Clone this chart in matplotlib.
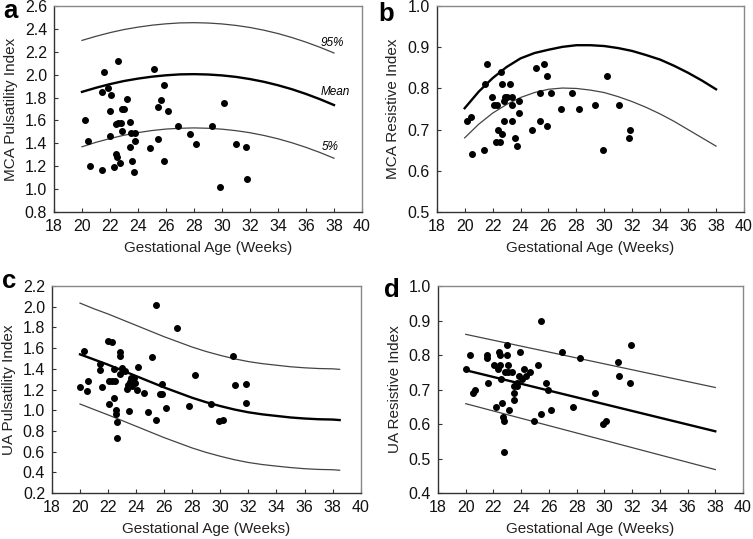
import matplotlib
matplotlib.use("Agg")
from matplotlib import pyplot as plt

plt.rcParams['font.family'] = ['Liberation Sans', 'DejaVu Sans']

# panel a - MCA pulsatility index
a_x = [20.25, 20.43, 20.55, 21.4, 21.58, 21.4, 21.87, 22.0, 22.0, 22.1, 22.27, 22.4, 22.4,
       22.5, 22.56, 22.6, 22.68, 22.8, 22.87, 22.87, 23.0, 23.25, 23.42, 23.44, 23.47, 23.56,
       23.73, 23.82, 23.82, 24.83, 25.11, 25.4, 25.42, 25.66, 25.83, 25.88, 26.16, 26.85,
       27.74, 28.14, 29.31, 29.86, 30.17, 30.98, 31.75, 31.8]
a_y = [1.60, 1.42, 1.20, 1.85, 2.02, 1.17, 1.88, 1.68, 1.46, 1.82, 1.19, 1.57, 1.31,
       1.28, 2.12, 1.58, 1.23, 1.58, 1.51, 1.70, 1.70, 1.79, 1.59, 1.37, 1.49, 1.25,
       1.15, 1.49, 1.42, 1.36, 2.05, 1.72, 1.44, 1.78, 1.91, 1.25, 1.68, 1.55,
       1.48, 1.39, 1.55, 1.02, 1.75, 1.39, 1.37, 1.09]
a_cx = list(range(20, 39))
a_p95 = [2.300, 2.336, 2.368, 2.395, 2.416, 2.433, 2.445, 2.453, 2.455, 2.452,
         2.444, 2.431, 2.413, 2.389, 2.360, 2.325, 2.285, 2.240, 2.190]
a_mean = [1.850, 1.886, 1.918, 1.945, 1.966, 1.983, 1.995, 2.003, 2.005, 2.002,
          1.994, 1.981, 1.962, 1.938, 1.908, 1.873, 1.832, 1.786, 1.735]
a_p5 = [1.370, 1.409, 1.442, 1.471, 1.494, 1.512, 1.525, 1.532, 1.535, 1.532,
        1.524, 1.511, 1.493, 1.469, 1.440, 1.405, 1.365, 1.320, 1.270]

# panel b - MCA resistive index
b_x = [20.2, 20.43, 20.55, 21.39, 21.44, 21.58, 21.99, 22.1, 22.27, 22.34, 22.4, 22.5,
       22.58, 22.68, 22.7, 22.84, 22.84, 22.92, 23.01, 23.27, 23.42, 23.42, 23.42, 23.58,
       23.75, 23.87, 23.87, 24.85, 25.11, 25.4, 25.4, 25.71, 25.88, 25.9, 26.19, 26.88,
       27.71, 28.17, 29.31, 29.88, 30.17, 31.08, 31.75, 31.84]
b_y = [0.72, 0.73, 0.64, 0.65, 0.81, 0.86, 0.78, 0.76, 0.67, 0.76, 0.70, 0.67,
       0.84, 0.81, 0.69, 0.72, 0.77, 0.78, 0.78, 0.81, 0.78, 0.76, 0.72, 0.68,
       0.66, 0.74, 0.77, 0.70, 0.85, 0.79, 0.72, 0.86, 0.83, 0.71, 0.79, 0.75,
       0.79, 0.75, 0.76, 0.65, 0.83, 0.76, 0.68, 0.70]
b_cx = list(range(20, 39))
b_upper = [0.752, 0.792, 0.825, 0.852, 0.873, 0.886, 0.894, 0.901, 0.905, 0.905,
           0.903, 0.898, 0.891, 0.881, 0.870, 0.855, 0.838, 0.819, 0.798]
b_lower = [0.680, 0.713, 0.740, 0.761, 0.778, 0.790, 0.798, 0.801, 0.800, 0.796,
           0.790, 0.780, 0.768, 0.754, 0.738, 0.720, 0.700, 0.680, 0.660]

# panel c - UA pulsatility index
c_x = [20.0, 20.28, 20.47, 20.59, 21.4, 21.42, 21.6, 21.97, 22.03, 22.1, 22.26, 22.28,
       22.4, 22.44, 22.47, 22.56, 22.56, 22.67, 22.67, 22.85, 22.87, 22.87, 23.0, 23.2,
       23.37, 23.42, 23.47, 23.54, 23.6, 23.73, 23.82, 23.92, 24.04, 24.13, 24.54, 24.85,
       25.13, 25.4, 25.42, 25.68, 25.87, 25.87, 26.16, 26.88, 27.76, 28.19, 29.33, 29.9,
       30.18, 30.9, 31.06, 31.8, 31.82]
c_y = [1.22, 1.57, 1.19, 1.28, 1.45, 1.39, 1.22, 1.67, 1.28, 1.06, 1.66, 1.28,
       1.40, 1.12, 1.28, 1.00, 0.96, 0.89, 0.73, 1.56, 1.52, 1.35, 1.41, 1.38,
       1.21, 1.24, 0.99, 1.27, 1.31, 1.23, 1.31, 1.26, 1.20, 1.42, 1.17, 0.98,
       1.51, 0.91, 2.02, 1.16, 1.25, 1.16, 1.02, 1.79, 1.04, 1.34, 1.06, 0.90,
       0.91, 1.52, 1.24, 1.25, 1.07]
c_cx = list(range(20, 39)) + [38.5]
c_upper = [2.035, 1.980, 1.930, 1.875, 1.820, 1.765, 1.710, 1.660, 1.610, 1.567,
           1.530, 1.497, 1.470, 1.450, 1.435, 1.420, 1.410, 1.403, 1.400, 1.395]
c_mean = [1.540, 1.490, 1.440, 1.385, 1.330, 1.275, 1.220, 1.170, 1.120, 1.077,
          1.040, 1.007, 0.980, 0.960, 0.945, 0.930, 0.920, 0.913, 0.910, 0.905]
c_lower = [1.060, 1.007, 0.955, 0.900, 0.845, 0.790, 0.735, 0.685, 0.635, 0.592,
           0.555, 0.522, 0.495, 0.475, 0.460, 0.446, 0.435, 0.428, 0.425, 0.420]

# panel d - UA resistive index
d_x = [20.02, 20.33, 20.55, 20.67, 21.51, 21.51, 21.63, 22.06, 22.15, 22.32, 22.37, 22.46,
       22.49, 22.51, 22.63, 22.66, 22.75, 22.78, 22.83, 22.95, 23.0, 23.02, 23.07, 23.09,
       23.33, 23.47, 23.47, 23.5, 23.67, 23.71, 23.83, 23.95, 24.07, 24.22, 24.38, 24.62,
       24.94, 25.2, 25.46, 25.46, 25.8, 25.92, 26.18, 26.97, 27.76, 28.21, 29.36, 29.93,
       30.15, 30.96, 31.06, 31.83, 31.9]
d_y = [0.76, 0.80, 0.69, 0.70, 0.80, 0.79, 0.72, 0.77, 0.65, 0.76, 0.81, 0.80,
       0.77, 0.73, 0.66, 0.62, 0.61, 0.52, 0.75, 0.80, 0.83, 0.75, 0.77, 0.64,
       0.75, 0.69, 0.67, 0.71, 0.72, 0.71, 0.74, 0.81, 0.73, 0.76, 0.74, 0.75,
       0.61, 0.77, 0.90, 0.63, 0.72, 0.70, 0.64, 0.81, 0.65, 0.79, 0.69, 0.60,
       0.61, 0.78, 0.74, 0.72, 0.83]
d_cx = [20, 38]
d_upper = [0.86, 0.706]
d_mean = [0.756, 0.579]
d_lower = [0.659, 0.468]

W, H = 753, 539
fig = plt.figure(figsize=(W / 100, H / 100), dpi=100)


def style(ax, ylim, yticks, ylabel):
    ax.set_xlim(18, 40)
    ax.set_xticks(range(18, 41, 2))
    ax.set_ylim(*ylim)
    ax.set_yticks(yticks)
    ax.set_yticklabels(["%.1f" % v for v in yticks])
    ax.tick_params(direction="in", length=3, width=0.8, labelsize=11.5,
                   colors="#333333", labelcolor="#111111")
    ax.tick_params(axis="x", pad=5)
    ax.tick_params(axis="y", pad=5)
    ax.spines["left"].set_color("#333333")
    ax.spines["bottom"].set_color("#333333")
    ax.spines["top"].set_color("#888888")
    ax.spines["right"].set_color("#888888")
    for s in ax.spines.values():
        s.set_linewidth(1.0)
    ax.set_xlabel("Gestational Age (Weeks)", fontsize=11, labelpad=5, color="#222222")
    ax.set_ylabel(ylabel, fontsize=11, labelpad=5, color="#222222")


def letter(txt, x, y):
    fig.text(x / W, 1 - y / H, txt, fontsize=18.5, fontweight="bold",
             ha="left", va="baseline")


ax = fig.add_axes([0.0717, 0.6067, 0.409, 0.382])
ax.plot(a_cx, a_p95, color="#444444", lw=0.9)
ax.plot(a_cx, a_mean, color="black", lw=1.7)
ax.plot(a_cx, a_p5, color="#444444", lw=0.9)
ax.scatter(a_x, a_y, s=16, color="black", zorder=3)
ax.text(37.9, 2.28, "95%", fontsize=8.5, style="italic", ha="center", va="center")
ax.text(38.1, 1.85, "Mean", fontsize=8.5, style="italic", ha="center", va="center")
ax.text(37.75, 1.37, "5%", fontsize=8.5, style="italic", ha="center", va="center")
style(ax, (0.8, 2.6), [0.8 + 0.2 * i for i in range(10)], "MCA Pulsatility Index")
letter("a", 3, 18)

ax = fig.add_axes([0.580, 0.6067, 0.408, 0.382])
ax.plot(b_cx, b_upper, color="black", lw=1.7)
ax.plot(b_cx, b_lower, color="#444444", lw=0.9)
ax.scatter(b_x, b_y, s=16, color="black", zorder=3)
style(ax, (0.5, 1.0), [0.5, 0.6, 0.7, 0.8, 0.9, 1.0], "MCA Resistive Index")
letter("b", 378, 21)

ax = fig.add_axes([0.069, 0.0853, 0.41, 0.384])
ax.plot(c_cx, c_upper, color="#444444", lw=0.9)
ax.plot(c_cx, c_mean, color="black", lw=1.7)
ax.plot(c_cx, c_lower, color="#444444", lw=0.9)
ax.scatter(c_x, c_y, s=16, color="black", zorder=3)
style(ax, (0.2, 2.2), [0.2 + 0.2 * i for i in range(11)], "UA Pulsatility Index")
letter("c", 2, 288)

ax = fig.add_axes([0.5817, 0.0853, 0.405, 0.384])
ax.plot(d_cx, d_upper, color="#444444", lw=0.9)
ax.plot(d_cx, d_mean, color="black", lw=1.7)
ax.plot(d_cx, d_lower, color="#444444", lw=0.9)
ax.scatter(d_x, d_y, s=16, color="black", zorder=3)
style(ax, (0.4, 1.0), [0.4, 0.5, 0.6, 0.7, 0.8, 0.9, 1.0], "UA Resistive Index")
letter("d", 384, 297)

fig.savefig("out.png", dpi=100)
